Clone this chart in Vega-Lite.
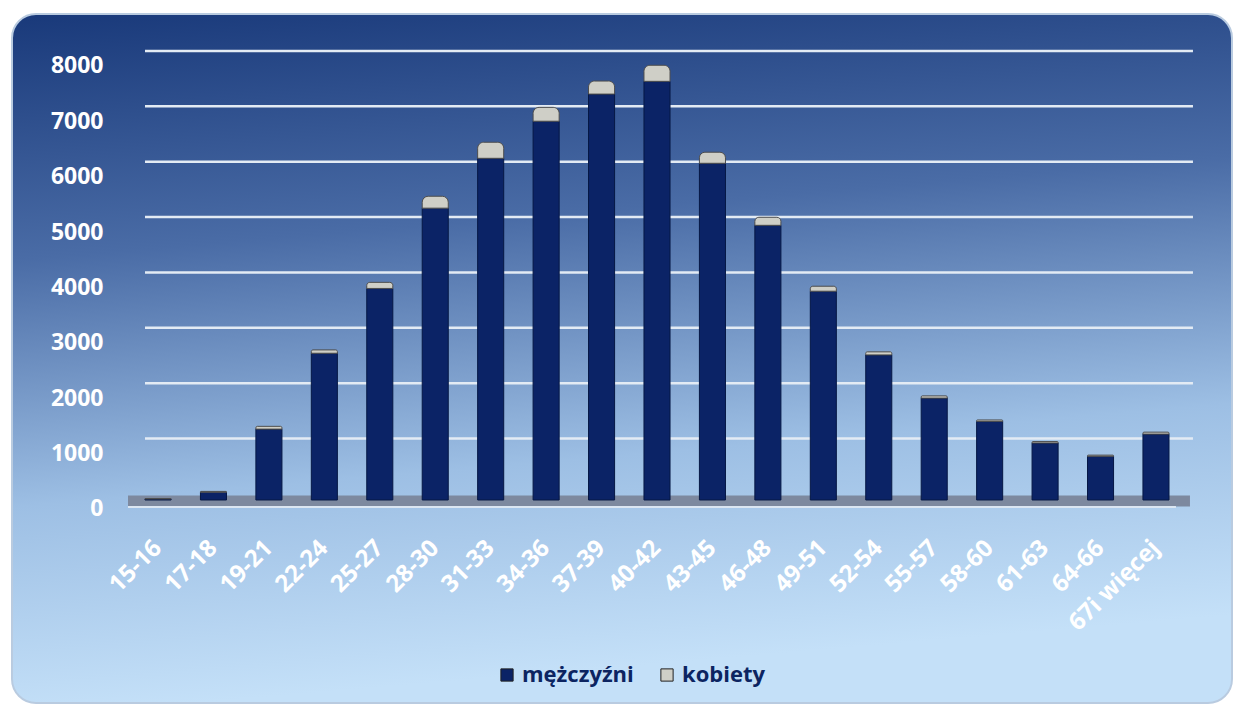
{
  "$schema": "https://vega.github.io/schema/vega-lite/v6.json",
  "width": 1220,
  "height": 689,
  "padding": {"left": 12, "top": 14, "right": 4, "bottom": 4},
  "autosize": {"type": "none"},
  "background": "white",
  "config": {
    "font": "Open Sans",
    "view": {
      "fill": {
        "gradient": "linear",
        "x1": 0, "y1": 0, "x2": 0.15, "y2": 1,
        "stops": [
          {"offset": 0, "color": "#19397a"},
          {"offset": 0.35, "color": "#4a6ca6"},
          {"offset": 0.7, "color": "#9dbfe4"},
          {"offset": 1, "color": "#c4e0f8"}
        ]
      },
      "stroke": "#b9cbe0",
      "strokeWidth": 2,
      "cornerRadius": 24
    },
    "legend": {
      "orient": "none",
      "legendX": 484,
      "legendY": 650,
      "direction": "horizontal",
      "title": null,
      "symbolType": "square",
      "symbolSize": 150,
      "symbolStrokeColor": "#222222",
      "symbolStrokeWidth": 1,
      "labelFont": "Open Sans",
      "labelFontSize": 22,
      "labelFontWeight": "bold",
      "labelColor": "#0c2461",
      "columnPadding": 22,
      "padding": 0
    }
  },
  "datasets": {
    "wiek": [
      {"wiek": "15-16", "plec": "mężczyźni", "liczba": 20},
      {"wiek": "17-18", "plec": "mężczyźni", "liczba": 140},
      {"wiek": "19-21", "plec": "mężczyźni", "liczba": 1280},
      {"wiek": "22-24", "plec": "mężczyźni", "liczba": 2650},
      {"wiek": "25-27", "plec": "mężczyźni", "liczba": 3820},
      {"wiek": "28-30", "plec": "mężczyźni", "liczba": 5270},
      {"wiek": "31-33", "plec": "mężczyźni", "liczba": 6170},
      {"wiek": "34-36", "plec": "mężczyźni", "liczba": 6840},
      {"wiek": "37-39", "plec": "mężczyźni", "liczba": 7330},
      {"wiek": "40-42", "plec": "mężczyźni", "liczba": 7560},
      {"wiek": "43-45", "plec": "mężczyźni", "liczba": 6080},
      {"wiek": "46-48", "plec": "mężczyźni", "liczba": 4960},
      {"wiek": "49-51", "plec": "mężczyźni", "liczba": 3770},
      {"wiek": "52-54", "plec": "mężczyźni", "liczba": 2620},
      {"wiek": "55-57", "plec": "mężczyźni", "liczba": 1840},
      {"wiek": "58-60", "plec": "mężczyźni", "liczba": 1420},
      {"wiek": "61-63", "plec": "mężczyźni", "liczba": 1030},
      {"wiek": "64-66", "plec": "mężczyźni", "liczba": 790},
      {"wiek": "67i więcej", "plec": "mężczyźni", "liczba": 1190},
      {"wiek": "15-16", "plec": "kobiety", "liczba": 5},
      {"wiek": "17-18", "plec": "kobiety", "liczba": 15},
      {"wiek": "19-21", "plec": "kobiety", "liczba": 50},
      {"wiek": "22-24", "plec": "kobiety", "liczba": 60},
      {"wiek": "25-27", "plec": "kobiety", "liczba": 110},
      {"wiek": "28-30", "plec": "kobiety", "liczba": 215},
      {"wiek": "31-33", "plec": "kobiety", "liczba": 290},
      {"wiek": "34-36", "plec": "kobiety", "liczba": 250},
      {"wiek": "37-39", "plec": "kobiety", "liczba": 235},
      {"wiek": "40-42", "plec": "kobiety", "liczba": 290},
      {"wiek": "43-45", "plec": "kobiety", "liczba": 200},
      {"wiek": "46-48", "plec": "kobiety", "liczba": 145},
      {"wiek": "49-51", "plec": "kobiety", "liczba": 90},
      {"wiek": "52-54", "plec": "kobiety", "liczba": 55},
      {"wiek": "55-57", "plec": "kobiety", "liczba": 40},
      {"wiek": "58-60", "plec": "kobiety", "liczba": 25},
      {"wiek": "61-63", "plec": "kobiety", "liczba": 25},
      {"wiek": "64-66", "plec": "kobiety", "liczba": 20},
      {"wiek": "67i więcej", "plec": "kobiety", "liczba": 35}
    ],
    "grid": [
      {"v": 1000}, {"v": 2000}, {"v": 3000}, {"v": 4000},
      {"v": 5000}, {"v": 6000}, {"v": 7000}, {"v": 8000}
    ],
    "floor": [{"v": 0}]
  },
  "layer": [
    {
      "data": {"name": "grid"},
      "mark": {"type": "rule", "color": "#e3ebf4", "strokeWidth": 2.5, "yOffset": -6, "x2Offset": 37},
      "encoding": {
        "y": {"field": "v", "type": "quantitative"},
        "x": {"datum": "15-16", "bandPosition": 0},
        "x2": {"datum": "67i więcej"}
      }
    },
    {
      "data": {"name": "floor"},
      "mark": {"type": "rule", "color": "#7d899f", "strokeWidth": 11, "yOffset": 1, "xOffset": -17, "x2Offset": 34},
      "encoding": {
        "y": {"field": "v", "type": "quantitative"},
        "x": {"datum": "15-16", "bandPosition": 0},
        "x2": {"datum": "67i więcej"}
      }
    },
    {
      "data": {"name": "floor"},
      "mark": {"type": "rule", "color": "#dbe6f2", "strokeWidth": 2, "yOffset": 7, "xOffset": -17, "x2Offset": 20},
      "encoding": {
        "y": {"field": "v", "type": "quantitative"},
        "x": {"datum": "15-16", "bandPosition": 0},
        "x2": {"datum": "67i więcej"}
      }
    },
    {
      "data": {"name": "wiek"},
      "transform": [
        {"stack": "liczba", "groupby": ["wiek"], "sort": [{"field": "plec", "order": "descending"}], "as": ["y0", "y1"]},
        {"filter": "datum.plec === 'mężczyźni'"}
      ],
      "mark": {"type": "bar", "stroke": "#061845", "strokeWidth": 1},
      "encoding": {
        "x": {
          "field": "wiek",
          "type": "nominal",
          "scale": {
            "type": "band",
            "domain": ["15-16", "17-18", "19-21", "22-24", "25-27", "28-30", "31-33", "34-36", "37-39", "40-42", "43-45", "46-48", "49-51", "52-54", "55-57", "58-60", "61-63", "64-66", "67i więcej"],
            "range": [133, 1157],
            "paddingInner": 0.53,
            "paddingOuter": 0
          },
          "axis": {
            "orient": "bottom",
            "offset": -165,
            "title": null,
            "domain": false,
            "ticks": false,
            "labelAngle": -45,
            "labelAlign": "right",
            "labelBaseline": "middle",
            "labelPadding": 6,
            "labelColor": "white",
            "labelFont": "Open Sans",
            "labelFontSize": 24,
            "labelFontWeight": "bold",
            "labelOverlap": false,
            "labelBound": false
          }
        },
        "y": {
          "field": "y1",
          "type": "quantitative",
          "scale": {"domain": [-3666, 8776], "nice": false, "zero": false},
          "axis": {
            "values": [0, 1000, 2000, 3000, 4000, 5000, 6000, 7000, 8000],
            "format": "d",
            "title": null,
            "grid": false,
            "domain": false,
            "ticks": false,
            "offset": -91,
            "labelPadding": 0,
            "labelOffset": 9,
            "labelColor": "white",
            "labelFont": "Open Sans",
            "labelFontSize": 23,
            "labelFontWeight": "bold",
            "labelOverlap": false,
            "labelBound": false,
            "zindex": 1
          }
        },
        "y2": {"field": "y0"},
        "color": {
          "field": "plec",
          "type": "nominal",
          "scale": {"domain": ["mężczyźni", "kobiety"], "range": ["#0b2366", "#cfcfc7"]}
        }
      }
    },
    {
      "data": {"name": "wiek"},
      "transform": [
        {"stack": "liczba", "groupby": ["wiek"], "sort": [{"field": "plec", "order": "descending"}], "as": ["y0", "y1"]},
        {"filter": "datum.plec === 'kobiety'"}
      ],
      "mark": {"type": "bar", "stroke": "#4d4d4d", "strokeWidth": 1, "cornerRadiusTopLeft": 6, "cornerRadiusTopRight": 6},
      "encoding": {
        "x": {"field": "wiek", "type": "nominal"},
        "y": {"field": "y1", "type": "quantitative"},
        "y2": {"field": "y0"},
        "color": {"field": "plec", "type": "nominal"}
      }
    }
  ]
}
